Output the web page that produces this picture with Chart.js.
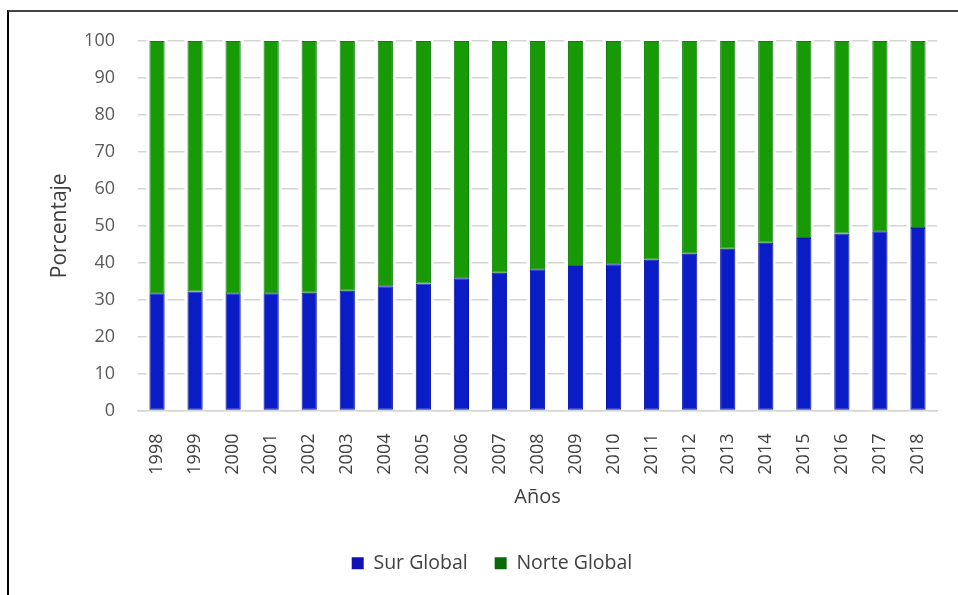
<!DOCTYPE html>
<html lang="es">
<head>
<meta charset="utf-8">
<title>Porcentaje por año: Sur Global y Norte Global</title>
<script src="https://cdn.jsdelivr.net/npm/chart.js@4/dist/chart.umd.min.js"></script>
<style>
  html, body { margin: 0; padding: 0; background: #ffffff; }
  body { width: 958px; height: 595px; position: relative; overflow: hidden; }
  #frame {
    position: absolute; left: 7px; top: 10px; width: 951px; height: 585px;
    border-left: 2px solid #000; border-top: 2px solid #444;
    box-sizing: border-box;
  }
  #wrap { position: absolute; left: 0; top: 0; width: 958px; height: 595px; }
</style>
</head>
<body>
<div id="frame"></div>
<div id="wrap"><canvas id="chart" width="958" height="595"></canvas></div>
<script>
// Años del eje horizontal
const years = ['1998','1999','2000','2001','2002','2003','2004','2005','2006','2007',
               '2008','2009','2010','2011','2012','2013','2014','2015','2016','2017','2018'];

// Participación porcentual de cada región
const surGlobal   = [31.7, 32.2, 31.7, 31.7, 31.9, 32.4, 33.6, 34.4, 35.8, 37.3,
                     38.2, 39.1, 39.6, 40.8, 42.4, 43.8, 45.4, 46.7, 47.9, 48.5, 49.4];
const norteGlobal = [68.3, 67.8, 68.3, 68.3, 68.1, 67.6, 66.4, 65.6, 64.2, 62.7,
                     61.8, 60.9, 60.4, 59.2, 57.6, 56.2, 54.6, 53.3, 52.1, 51.5, 50.6];

// Marcas del eje vertical
const yTicks = [0, 10, 20, 30, 40, 50, 60, 70, 80, 90, 100];

const seriesNames = ['Sur Global', 'Norte Global'];

const FONT = "'Open Sans', 'Liberation Sans', sans-serif";
const PAD_LEFT = 47;        // margen izquierdo del lienzo
const CHART_LEFT = 138;     // borde izquierdo del área de trazado
const X_AXIS_HEIGHT = 116;  // alto reservado para años y título

new Chart(document.getElementById('chart'), {
  type: 'bar',
  data: {
    labels: years,
    datasets: [
      {
        label: seriesNames[0],
        data: surGlobal,
        backgroundColor: '#0a1cc6',
        borderColor: '#0312a8',
        borderWidth: 1,
        borderSkipped: false
      },
      {
        label: seriesNames[1],
        data: norteGlobal,
        backgroundColor: '#189a06',
        borderColor: '#0d800a',
        borderWidth: 1,
        borderSkipped: false
      }
    ]
  },
  options: {
    responsive: false,
    animation: false,
    devicePixelRatio: 1,
    layout: { padding: { left: PAD_LEFT, right: 21, top: 41, bottom: 12 } },
    datasets: { bar: { barPercentage: 0.4, categoryPercentage: 1.0 } },
    plugins: {
      title: { display: false },
      tooltip: { enabled: false },
      legend: {
        display: true,
        position: 'bottom',
        labels: {
          font: { family: FONT, size: 19.5 },
          color: '#404040',
          boxWidth: 12,
          boxHeight: 12,
          padding: 27,
          generateLabels: (chart) => {
            const swatches = ['#1010b4', '#0a6a0a'];
            return chart.data.datasets.map((ds, i) => ({
              text: ds.label,
              fillStyle: swatches[i],
              strokeStyle: swatches[i],
              lineWidth: 0,
              hidden: false,
              datasetIndex: i,
              fontColor: '#404040'
            }));
          }
        }
      }
    },
    scales: {
      x: {
        stacked: true,
        grid: { display: false, drawTicks: false },
        border: { display: true, color: '#d4d4d4', width: 1.5 },
        ticks: {
          font: { family: FONT, size: 18 },
          color: '#404040',
          minRotation: 90,
          maxRotation: 90,
          autoSkip: false,
          padding: 23
        },
        title: {
          display: true,
          text: 'Años',
          font: { family: FONT, size: 20 },
          color: '#404040',
          padding: { top: 0, bottom: 17.5 }
        },
        afterFit: (scale) => {
          scale.height = X_AXIS_HEIGHT;
          scale.paddingLeft = 0;
          scale.paddingRight = 0;
        }
      },
      y: {
        stacked: true,
        min: 0,
        max: 100,
        afterBuildTicks: (scale) => { scale.ticks = yTicks.map(v => ({ value: v })); },
        grid: {
          color: '#d4d4d4',
          lineWidth: 1.5,
          drawTicks: false
        },
        border: { display: false, dash: [17, 21], dashOffset: 8.5 },
        ticks: {
          font: { family: FONT, size: 18 },
          color: '#595959',
          padding: 23
        },
        title: {
          display: true,
          text: 'Porcentaje',
          font: { family: FONT, size: 21 },
          color: '#404040',
          padding: { top: 0.5, bottom: 0 }
        },
        afterFit: (scale) => { scale.width = CHART_LEFT - PAD_LEFT; }
      }
    }
  }
});
</script>
</body>
</html>
